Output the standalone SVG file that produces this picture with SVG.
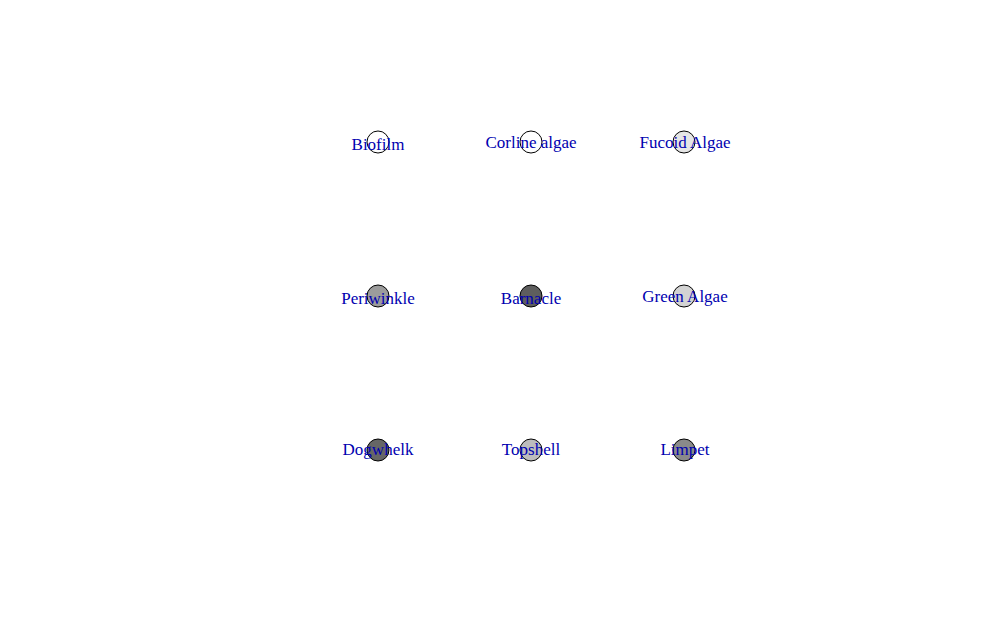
<svg xmlns="http://www.w3.org/2000/svg" width="1006" height="622" viewBox="0 0 1006 622">
<style>
.n{stroke:#000;stroke-width:1}
.t{font-family:"Liberation Serif","Times New Roman",serif;font-size:17px;fill:#0000b0;text-anchor:middle}
</style>
<rect width="1006" height="622" fill="#fff"/>
<g id="connectors"/>
<g id="biofilm"><circle class="n" cx="378" cy="142" r="11" fill="#fff"/><text class="t" x="378" y="150">Biofilm</text></g>
<g id="corline"><circle class="n" cx="531" cy="142" r="11" fill="#fff"/><text class="t" x="531" y="148">Corline algae</text></g>
<g id="fucoid"><circle class="n" cx="684" cy="142" r="11" fill="#e5e5e5"/><text class="t" x="685" y="148">Fucoid Algae</text></g>
<g id="periwinkle"><circle class="n" cx="378" cy="296" r="11" fill="#9c9c9c"/><text class="t" x="378" y="304">Periwinkle</text></g>
<g id="barnacle"><circle class="n" cx="531" cy="296" r="11" fill="#5e5e5e"/><text class="t" x="531" y="304">Barnacle</text></g>
<g id="greenalgae"><circle class="n" cx="684" cy="296" r="11" fill="#d3d3d3"/><text class="t" x="685" y="302">Green Algae</text></g>
<g id="dogwhelk"><circle class="n" cx="378" cy="450" r="11" fill="#666"/><text class="t" x="378" y="455">Dogwhelk</text></g>
<g id="topshell"><circle class="n" cx="531" cy="450" r="11" fill="#bdbdbd"/><text class="t" x="531" y="455">Topshell</text></g>
<g id="limpet"><circle class="n" cx="684" cy="450" r="11" fill="#8a8a8a"/><text class="t" x="685" y="455">Limpet</text></g>
</svg>
